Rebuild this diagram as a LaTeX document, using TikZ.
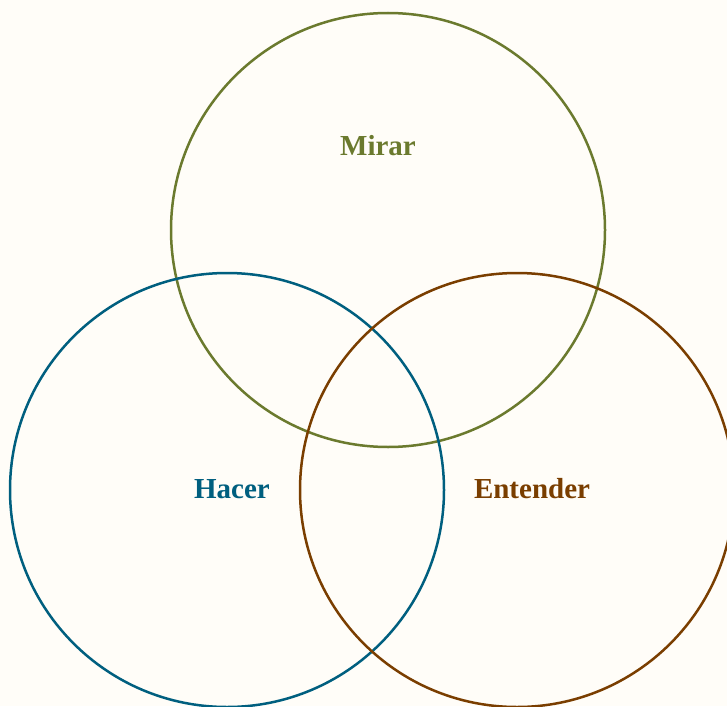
\documentclass[tikz,border=0pt]{standalone}
\usepackage{fontspec}
\setmainfont{Liberation Serif}
\definecolor{bg}{HTML}{FFFDF8}
\definecolor{olivec}{HTML}{6B7A2E}
\definecolor{tealc}{HTML}{005F7F}
\definecolor{brownc}{HTML}{7A3E00}
\tikzset{
  venn/.style={line width=2.5pt},
  lbl/.style={font=\fontsize{29}{33}\selectfont\bfseries, inner sep=0pt}
}
\begin{document}
\begin{tikzpicture}[x=1pt,y=-1pt]
\useasboundingbox (0,0) rectangle (727,706);
\fill[bg] (0,0) rectangle (727,706);
\clip (0,0) rectangle (727,706);
\node[venn, draw=olivec, circle, minimum size=434pt, inner sep=0pt] (mirarc) at (388,230) {};
\node[venn, draw=tealc, circle, minimum size=434pt, inner sep=0pt] (hacerc) at (227,490) {};
\node[venn, draw=brownc, circle, minimum size=434pt, inner sep=0pt] (entc) at (517,490) {};
\node[lbl, text=olivec] (mirar) at (378,146) {Mirar};
\node[lbl, text=tealc] (hacer) at (232,489) {Hacer};
\node[lbl, text=brownc] (entender) at (532,489) {Entender};
\end{tikzpicture}
\end{document}
